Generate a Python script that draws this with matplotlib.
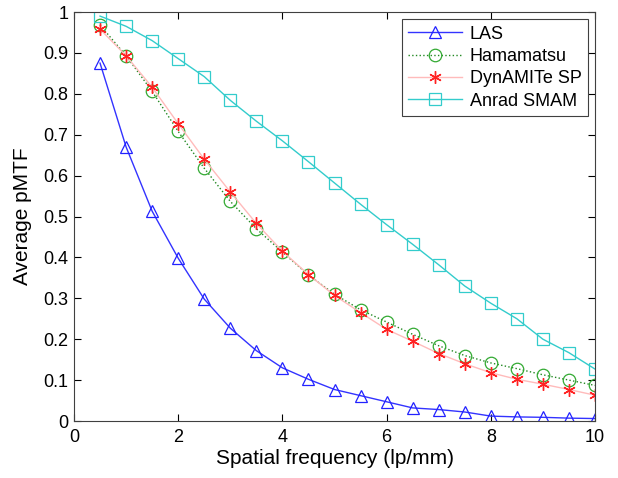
import matplotlib
matplotlib.use("Agg")
import matplotlib.pyplot as plt
import numpy as np

plt.rcParams['font.family'] = ['Liberation Sans', 'DejaVu Sans']

freq = [0.5, 1, 1.5, 2, 2.5, 3, 3.5, 4, 4.5, 5, 5.5, 6, 6.5, 7, 7.5, 8, 8.5, 9, 9.5, 10]
las = [0.875, 0.67, 0.513, 0.398, 0.298, 0.227, 0.172, 0.13, 0.102, 0.077,
       0.062, 0.047, 0.032, 0.028, 0.022, 0.012, 0.01, 0.009, 0.007, 0.006]
hamamatsu = [0.968, 0.893, 0.806, 0.708, 0.618, 0.537, 0.47, 0.413, 0.357, 0.31,
             0.272, 0.242, 0.212, 0.184, 0.16, 0.142, 0.128, 0.113, 0.1, 0.087]
dynamite = [0.958, 0.893, 0.816, 0.727, 0.64, 0.56, 0.483, 0.415, 0.358, 0.307,
            0.265, 0.224, 0.195, 0.165, 0.14, 0.118, 0.102, 0.09, 0.077, 0.063]
anrad = [0.99, 0.965, 0.93, 0.886, 0.842, 0.784, 0.733, 0.685, 0.634, 0.582,
         0.53, 0.48, 0.432, 0.382, 0.33, 0.288, 0.25, 0.2, 0.167, 0.127]

fig = plt.figure(figsize=(6.18, 4.78), dpi=100)
ax = fig.add_axes([74/618, 1-421/478, (595-74)/618, (421-12)/478])

ax.plot(freq, las, color='#3333ff', lw=1.0, marker='^', ms=9, mfc='none', mec='#2222ff', mew=0.9, label='LAS')
ax.plot(freq, hamamatsu, color='#228822', lw=1.0, ls=':', marker='o', ms=9, mfc='none', mec='#33aa33', mew=0.9, label='Hamamatsu')
ax.plot(freq, dynamite, color='#ffbbbb', lw=1.0, marker=(6, 2, 0), ms=9, mec='#ff2222', mfc='#ff2222', mew=1.0, label='DynAMITe SP')
ax.plot(freq, anrad, color='#33cccc', lw=1.0, marker='s', ms=8, mfc='none', mec='#33cccc', mew=0.9, label='Anrad SMAM')

ax.set_xlim(0, 10)
ax.set_ylim(0, 1)
ax.set_xticks([0, 2, 4, 6, 8, 10])
ax.set_yticks(np.arange(0, 1.01, 0.1))
ax.set_yticklabels(['0', '0.1', '0.2', '0.3', '0.4', '0.5', '0.6', '0.7', '0.8', '0.9', '1'])
ax.tick_params(direction='in', top=True, right=True, labelsize=13, length=5, width=0.8)
ax.tick_params(axis='y', pad=4)
ax.tick_params(axis='x', pad=6)
for s in ax.spines.values():
    s.set_color('#404040')
    s.set_linewidth(0.8)

ax.set_xlabel('Spatial frequency (lp/mm)', fontsize=15, labelpad=2)
ax.set_ylabel('Average pMTF', fontsize=15, labelpad=8)

leg = ax.legend(loc='upper right', fontsize=13, fancybox=False, edgecolor='#404040',
                framealpha=1, borderaxespad=0.4, handlelength=3.0, labelspacing=0.3,
                borderpad=0.35, handletextpad=0.4)
leg.get_frame().set_linewidth(0.8)

fig.savefig('out.png', dpi=100)
